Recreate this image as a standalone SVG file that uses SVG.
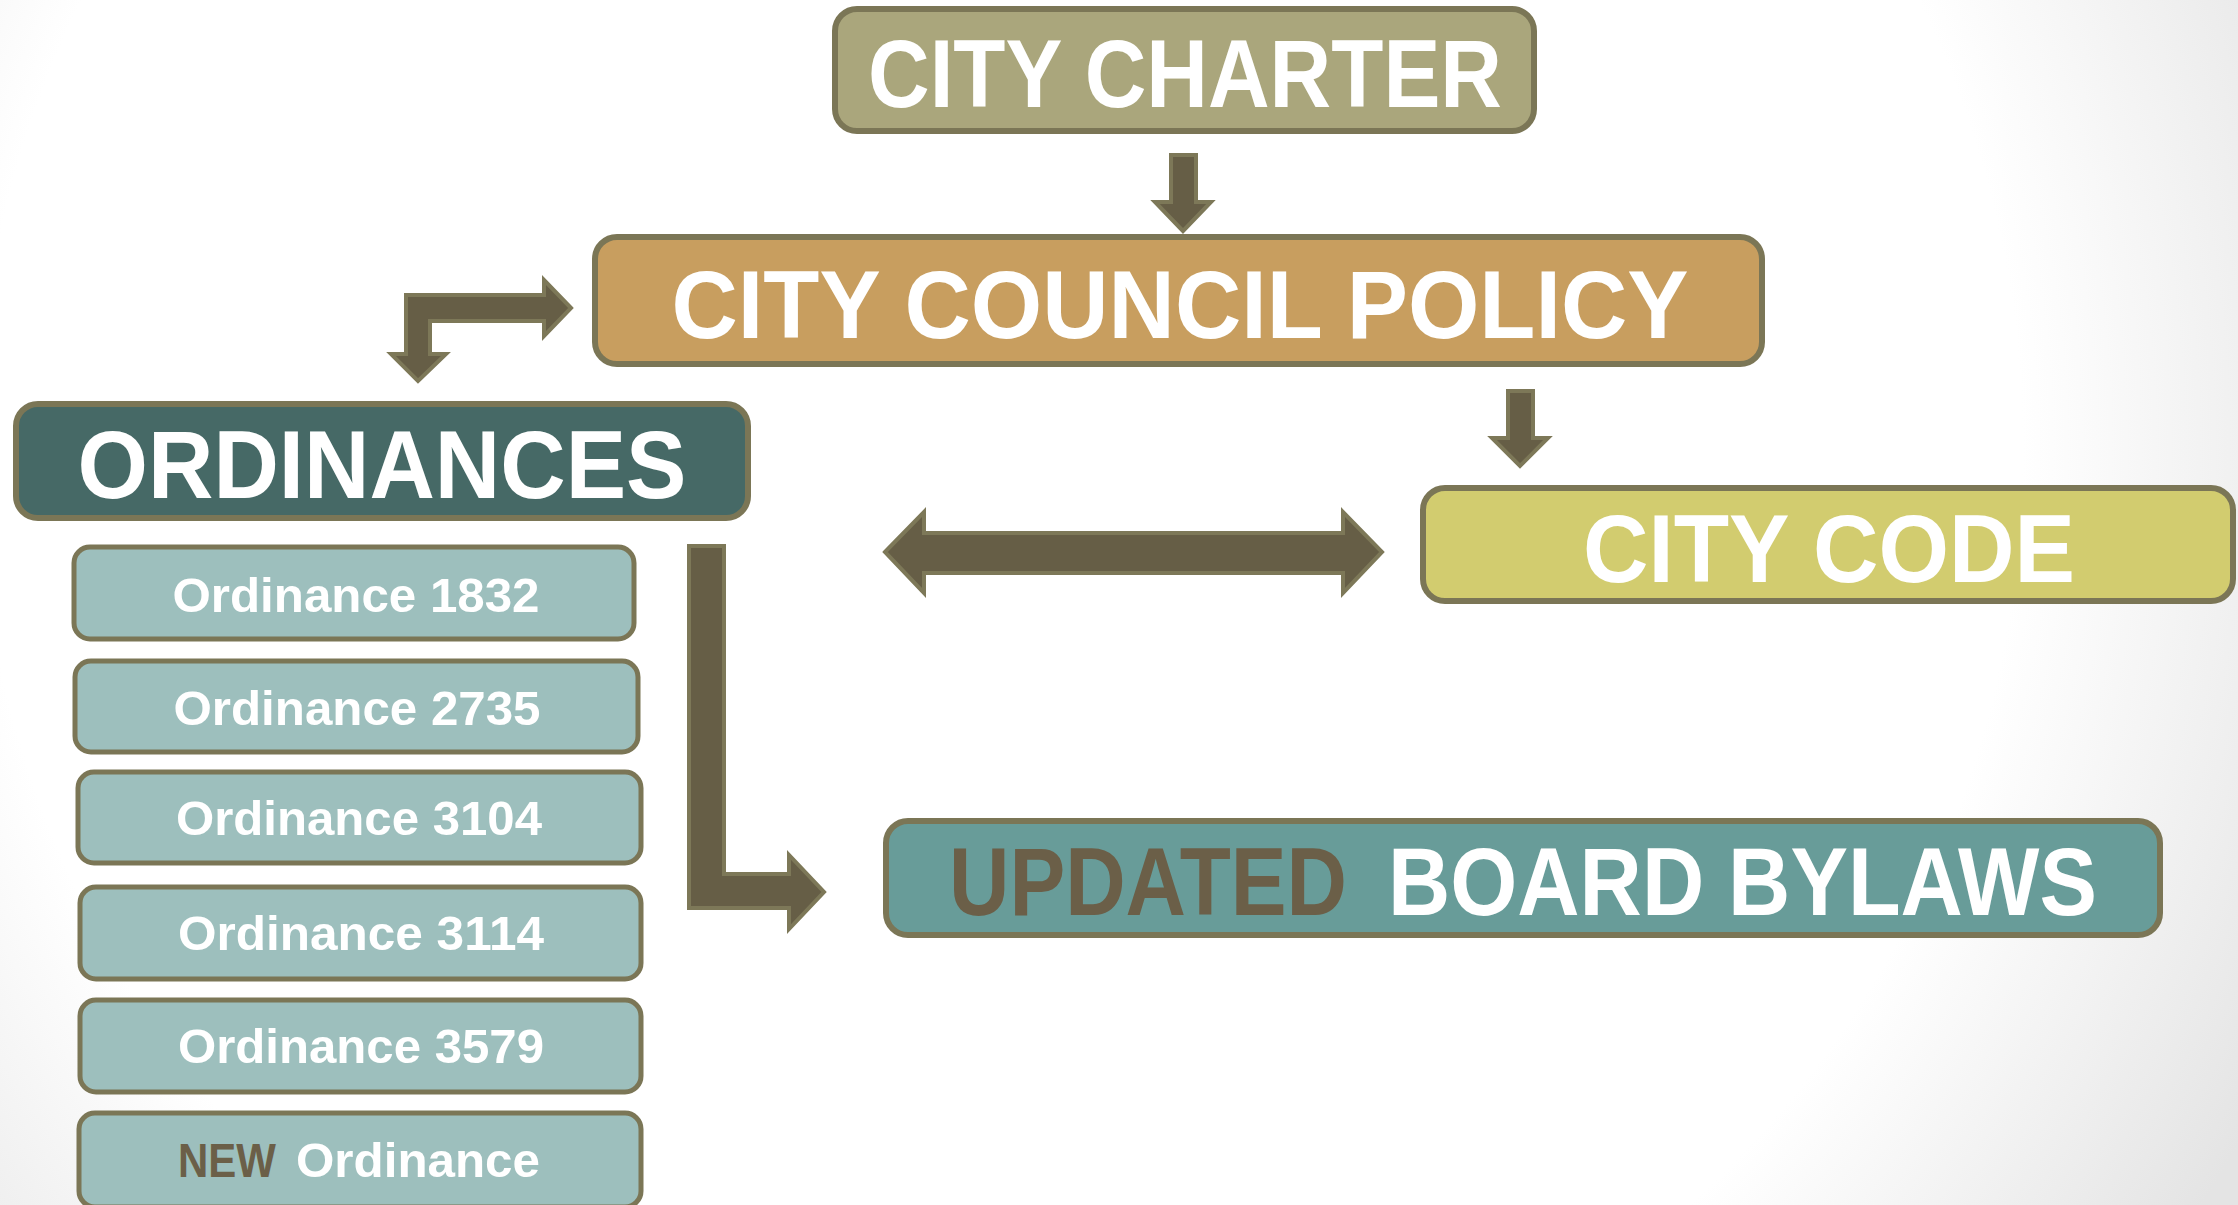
<svg xmlns="http://www.w3.org/2000/svg" width="2238" height="1205" viewBox="0 0 2238 1205">
<defs>
<radialGradient id="bg" cx="1000" cy="450" r="1420" gradientUnits="userSpaceOnUse">
<stop offset="0" stop-color="#ffffff"/>
<stop offset="0.72" stop-color="#ffffff"/>
<stop offset="1" stop-color="#e4e4e4"/>
</radialGradient>
<style>
.box{stroke:#7b7656;stroke-width:6}
.ord{fill:#9dbfbd;stroke:#7b7656;stroke-width:5}
.big{font-family:"Liberation Sans",Arial,sans-serif;font-weight:bold;font-size:97px;fill:#ffffff;text-anchor:middle}
.sm{font-family:"Liberation Sans",Arial,sans-serif;font-weight:bold;font-size:49px;fill:#ffffff;text-anchor:middle}
.st{text-anchor:start}
.dk{fill:#6b5f48}
.arr{fill:#665e46;stroke:#7d7858;stroke-width:4;stroke-linejoin:miter}
</style>
</defs>
<rect x="0" y="0" width="2238" height="1205" fill="url(#bg)"/>

<g id="city-charter">
<rect class="box" x="835" y="9" width="699" height="122" rx="22" fill="#aaa67c"/>
<text class="big" x="1185" y="107" textLength="634" lengthAdjust="spacingAndGlyphs">CITY CHARTER</text>
</g>

<g id="city-council-policy">
<rect class="box" x="595" y="237" width="1167" height="127" rx="22" fill="#c89e5f"/>
<text class="big" x="1180" y="338" textLength="1017" lengthAdjust="spacingAndGlyphs">CITY COUNCIL POLICY</text>
</g>

<g id="ordinances">
<rect class="box" x="16" y="404" width="732" height="114" rx="22" fill="#466966"/>
<text class="big" x="382" y="498" textLength="609" lengthAdjust="spacingAndGlyphs">ORDINANCES</text>
</g>

<g id="city-code">
<rect class="box" x="1423" y="488" width="810" height="113" rx="22" fill="#d2cc6f"/>
<text class="big" x="1829" y="582" textLength="492" lengthAdjust="spacingAndGlyphs">CITY CODE</text>
</g>

<g id="updated-board-bylaws">
<rect class="box" x="886" y="821" width="1274" height="114" rx="22" fill="#689c99"/>
<text class="big st dk" x="949" y="915" textLength="398" lengthAdjust="spacingAndGlyphs">UPDATED</text>
<text class="big st" x="1388" y="915" textLength="709" lengthAdjust="spacingAndGlyphs">BOARD BYLAWS</text>
</g>

<g id="ordinance-1832">
<rect class="ord" x="74" y="547" width="560" height="92" rx="16"/>
<text class="sm" x="356" y="612" textLength="367" lengthAdjust="spacingAndGlyphs">Ordinance 1832</text>
</g>
<g id="ordinance-2735">
<rect class="ord" x="75" y="661" width="563" height="91" rx="16"/>
<text class="sm" x="357" y="725" textLength="367" lengthAdjust="spacingAndGlyphs">Ordinance 2735</text>
</g>
<g id="ordinance-3104">
<rect class="ord" x="78" y="772" width="563" height="91" rx="16"/>
<text class="sm" x="359" y="835" textLength="366" lengthAdjust="spacingAndGlyphs">Ordinance 3104</text>
</g>
<g id="ordinance-3114">
<rect class="ord" x="80" y="887" width="561" height="92" rx="16"/>
<text class="sm" x="361" y="950" textLength="366" lengthAdjust="spacingAndGlyphs">Ordinance 3114</text>
</g>
<g id="ordinance-3579">
<rect class="ord" x="80" y="1000" width="561" height="92" rx="16"/>
<text class="sm" x="361" y="1063" textLength="366" lengthAdjust="spacingAndGlyphs">Ordinance 3579</text>
</g>
<g id="new-ordinance">
<rect class="ord" x="79" y="1113" width="562" height="94" rx="16"/>
<text class="sm st dk" x="178" y="1177" textLength="98" lengthAdjust="spacingAndGlyphs">NEW</text>
<text class="sm st" x="296" y="1177" textLength="244" lengthAdjust="spacingAndGlyphs">Ordinance</text>
</g>

<g id="connectors">
<polygon class="arr" points="1171,155 1196,155 1196,202 1211,202 1183,231 1155,202 1171,202"/>
<polygon class="arr" points="1508,391 1533,391 1533,438 1548,438 1520,466 1492,438 1508,438"/>
<polygon class="arr" points="571,308 544,280 544,295 406,295 406,354 391,354 418,381 446,354 430,354 430,321 544,321 544,336"/>
<polygon class="arr" points="885,552 924,512 924,533 1343,533 1343,512 1382,552 1343,593 1343,573 924,573 924,593"/>
<polygon class="arr" points="689,546 724,546 724,874 789,874 789,855 824,892 789,929 789,908 689,908"/>
</g>
</svg>
